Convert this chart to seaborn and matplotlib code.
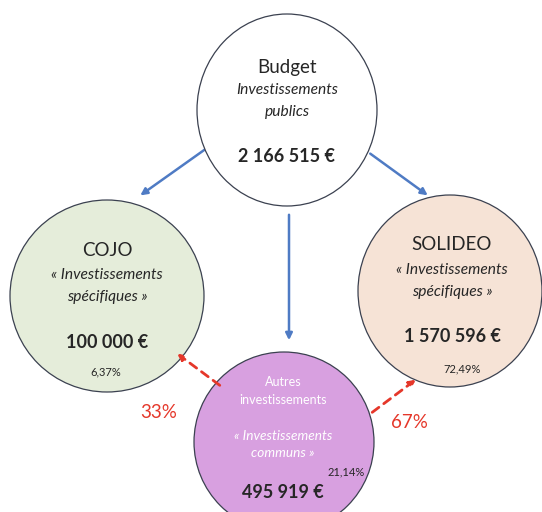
"""Schéma budget : investissements publics répartis entre COJO, SOLIDEO et investissements communs."""
import matplotlib
matplotlib.use("Agg")
import matplotlib.pyplot as plt
from matplotlib.patches import Ellipse, FancyArrowPatch
import seaborn as sns

# données
noeuds = ["Budget", "COJO", "SOLIDEO", "Autres"]
titres = ["Budget", "COJO", "SOLIDEO", "Autres\ninvestissements"]
sous_titres = ["Investissements\npublics", "« Investissements\nspécifiques »",
               "« Investissements\nspécifiques »", "« Investissements\ncommuns »"]
montants = ["2 166 515 €", "100 000 €", "1 570 596 €", "495 919 €"]
parts = ["", "6,37%", "72,49%", "21,14%"]
repartition = ["33%", "67%"]

# mise en page (pixels)
centres = {"Budget": (287, 110), "COJO": (107, 296), "SOLIDEO": (450, 291), "Autres": (284, 442)}
rayons = {"Budget": (90, 96), "COJO": (97, 96), "SOLIDEO": (92, 96), "Autres": (90, 90)}
couleurs = {"Budget": "#ffffff", "COJO": "#e5edda", "SOLIDEO": "#f6e3d6", "Autres": "#d8a0e0"}

sns.set_theme(style="white")
plt.rcParams["font.family"] = ["Lato", "DejaVu Sans"]

fig = plt.figure(figsize=(5.42, 5.12), dpi=100)
ax = fig.add_axes([0, 0, 1, 1])
ax.set_xlim(0, 542)
ax.set_ylim(512, 0)
ax.axis("off")

for n in noeuds:
    (cx, cy), (rx, ry) = centres[n], rayons[n]
    ax.add_patch(Ellipse((cx, cy), 2 * rx, 2 * ry, facecolor=couleurs[n],
                         edgecolor="#3b4150", lw=0.9, zorder=2))

# flèches bleues
bleu = "#4f7bc4"
for a, b in [((207, 148), (138, 197)), ((368, 152), (430, 197)), ((289, 212), (289, 343))]:
    ax.add_patch(FancyArrowPatch(a, b, arrowstyle="-|>", mutation_scale=10,
                                 color=bleu, lw=1.8, zorder=1))

# flèches rouges pointillées
rouge = "#e5372a"
for a, b in [((222, 387), (175, 352)), ((370, 414), (418, 378))]:
    ax.add_patch(FancyArrowPatch(a, b, arrowstyle="-|>", mutation_scale=9,
                                 color=rouge, lw=2.0, linestyle=(0, (3, 2.2)), zorder=3))
ax.text(159, 412, repartition[0], color=rouge, fontsize=13.5, ha="center", va="center")
ax.text(409, 423, repartition[1], color=rouge, fontsize=13.5, ha="center", va="center")


def lignes(x, ys, texte, **kw):
    for y, t in zip(ys, texte.split("\n")):
        ax.text(x, y, t, ha="center", va="center", zorder=4, **kw)


# Budget
lignes(287, [68], titres[0], fontsize=13.5)
lignes(287, [90, 112], sous_titres[0], fontsize=11.2, style="italic")
lignes(287, [157], montants[0], fontsize=13, weight="bold")

# COJO / SOLIDEO
for i, x, y0 in [(1, 107, 250), (2, 452, 245)]:
    lignes(x, [y0], titres[i], fontsize=13.5)
    lignes(x, [y0 + 25, y0 + 47], sous_titres[i], fontsize=11.2, style="italic")
    lignes(x, [y0 + 92], montants[i], fontsize=13, weight="bold")
ax.text(106, 372, parts[1], fontsize=8, ha="center", va="center", zorder=4)
ax.text(462, 369, parts[2], fontsize=8, ha="center", va="center", zorder=4)

# Autres
lignes(283, [382, 400], titres[3], fontsize=9, color="#ffffff")
lignes(283, [436, 453], sous_titres[3], fontsize=9.8, color="#ffffff", style="italic")
ax.text(346, 472, parts[3], fontsize=8, ha="center", va="center", zorder=4)
lignes(283, [493], montants[3], fontsize=13, weight="bold")

fig.savefig("out.png", dpi=100, facecolor="white")
